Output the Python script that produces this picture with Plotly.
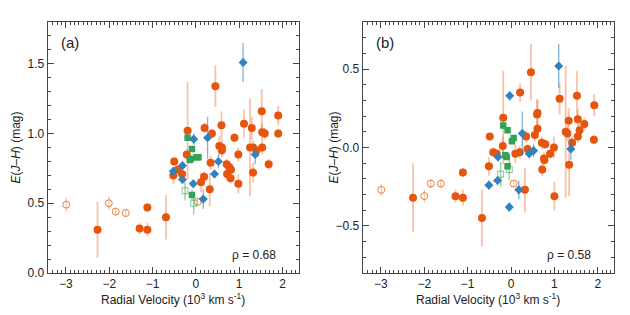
import plotly.graph_objects as go

# ---------------- Panel (a) data ----------------
a_org_x = [-2.27, -1.30, -1.12, -1.12, -0.69, -0.52, -0.50, -0.42, -0.32, -0.19, -0.21, 0.12, 0.19, 0.20,
           0.32, 0.34, 0.37, 0.45, 0.54, 0.59, 0.60, 0.60, 0.71, 0.72, 0.77, 0.80, 0.81, 0.89, 0.98, 0.98,
           1.11, 1.25, 1.29, 1.32, 1.32, 1.40, 1.52, 1.53, 1.53, 1.59, 1.68, 1.90, 1.90]
a_org_y = [0.31, 0.32, 0.31, 0.47, 0.40, 0.70, 0.80, 0.74, 0.71, 1.02, 0.85, 0.65, 0.69, 1.04,
           0.60, 0.79, 1.00, 1.34, 0.91, 1.06, 0.90, 0.88, 0.78, 0.71, 0.76, 0.68, 0.74, 0.97, 0.64, 0.85,
           1.07, 0.90, 1.04, 0.72, 0.90, 0.88, 1.16, 1.01, 0.90, 1.00, 0.78, 1.13, 1.00]
a_org_e = [0.20, 0.04, 0.05, 0.03, 0.16, 0.06, 0.03, 0.02, 0.03, 0.35, 0.04, 0.07, 0.04, 0.04,
           0.12, 0.05, 0.03, 0.15, 0.07, 0.10, 0.06, 0.05, 0.04, 0.04, 0.03, 0.04, 0.03, 0.03, 0.07, 0.05,
           0.10, 0.35, 0.08, 0.07, 0.05, 0.03, 0.16, 0.06, 0.05, 0.04, 0.04, 0.07, 0.03]
a_open_x = [-2.99, -2.01, -1.85, -1.62, 0.04]
a_open_y = [0.49, 0.50, 0.44, 0.43, 0.51]
a_open_e = [0.05, 0.05, 0.03, 0.03, 0.03]
a_blue_x = [-0.52, -0.31, -0.31, -0.05, -0.06, 0.17, 0.27, 0.43, 0.52, 1.09, 1.37]
a_blue_y = [0.73, 0.77, 0.67, 0.96, 0.64, 0.53, 0.97, 0.71, 0.80, 1.51, 0.85]
a_blue_e = [0.03, 0.03, 0.03, 0.04, 0.03, 0.07, 0.15, 0.03, 0.05, 0.14, 0.07]
a_grn_x = [-0.19, -0.14, -0.11, -0.09, 0.02, 0.06, -0.09]
a_grn_y = [0.97, 0.81, 0.82, 0.89, 0.83, 0.83, 0.56]
a_grn_e = [0.02, 0.02, 0.02, 0.02, 0.02, 0.02, 0.04]
a_gopen_x = [-0.25, -0.05]
a_gopen_y = [0.59, 0.50]
a_gopen_e = [0.07, 0.08]

# ---------------- Panel (b) data ----------------
b_org_x = [-2.26, -1.28, -1.11, -1.11, -0.67, -0.51, -0.49, -0.41, -0.33, -0.18, -0.19, 0.10, 0.20, 0.21,
           0.35, 0.32, 0.38, 0.46, 0.55, 0.60, 0.61, 0.61, 0.71, 0.72, 0.76, 0.77, 0.79, 0.90, 0.99, 1.00,
           1.12, 1.26, 1.30, 1.33, 1.34, 1.41, 1.52, 1.54, 1.54, 1.58, 1.69, 1.92, 1.91]
b_org_y = [-0.32, -0.31, -0.32, -0.16, -0.45, -0.12, 0.07, -0.03, -0.04, 0.19, 0.01, -0.04, -0.03, 0.35,
           0.07, -0.27, -0.01, 0.48, 0.08, 0.21, 0.22, 0.12, 0.03, -0.14, -0.07, -0.08, 0.02, -0.04, 0.00, -0.31,
           0.31, 0.10, 0.09, 0.17, -0.11, 0.03, 0.33, 0.18, 0.07, 0.11, 0.15, 0.27, 0.05]
b_org_e = [0.22, 0.04, 0.05, 0.03, 0.18, 0.06, 0.02, 0.03, 0.03, 0.30, 0.06, 0.06, 0.04, 0.06,
           0.04, 0.14, 0.03, 0.18, 0.04, 0.10, 0.08, 0.05, 0.04, 0.04, 0.04, 0.03, 0.03, 0.03, 0.07, 0.09,
           0.10, 0.42, 0.05, 0.08, 0.20, 0.04, 0.16, 0.06, 0.04, 0.05, 0.04, 0.07, 0.03]
b_open_x = [-2.99, -2.00, -1.85, -1.62, 0.06]
b_open_y = [-0.27, -0.31, -0.23, -0.23, -0.23]
b_open_e = [0.04, 0.04, 0.03, 0.03, 0.02]
b_blue_x = [-0.51, -0.31, -0.30, -0.03, -0.04, 0.18, 0.26, 0.42, 0.52, 1.10, 1.38]
b_blue_y = [-0.24, -0.21, -0.06, 0.33, -0.38, -0.27, 0.09, -0.04, -0.02, 0.52, -0.01]
b_blue_e = [0.03, 0.03, 0.03, 0.03, 0.03, 0.06, 0.14, 0.03, 0.04, 0.14, 0.07]
b_grn_x = [-0.18, -0.08, -0.13, -0.10, -0.08, 0.02, 0.06]
b_grn_y = [0.14, 0.11, -0.05, -0.06, -0.12, 0.04, 0.06]
b_grn_e = [0.02, 0.02, 0.02, 0.02, 0.02, 0.02, 0.02]
b_gopen_x = [-0.24, -0.04]
b_gopen_y = [-0.17, -0.14]
b_gopen_e = [0.08, 0.07]

x_ticks = [-3, -2, -1, 0, 1, 2]
a_y_ticks = [0.0, 0.5, 1.0, 1.5]
b_y_ticks = [-0.5, 0.0, 0.5]

ORG = "#E6550D"
ORG_E = "rgba(240,120,60,0.45)"
BLUE = "#3182BD"
BLUE_E = "rgba(49,130,189,0.6)"
GRN = "#31A354"
GRN_E = "rgba(49,163,84,0.45)"

fig = go.Figure()


def add_panel(xa, ya, org, opn, blu, grn, gop):
    def ey(e, c, w=1.6):
        return dict(type="data", array=e, color=c, thickness=w, width=0)
    fig.add_trace(go.Scatter(x=opn[0], y=opn[1], mode="markers", xaxis=xa, yaxis=ya,
                             error_y=ey(opn[2], ORG_E, 1.2),
                             marker=dict(symbol="circle-open", size=7, color=ORG, opacity=0.75,
                                         line=dict(width=1))))
    fig.add_trace(go.Scatter(x=gop[0], y=gop[1], mode="markers", xaxis=xa, yaxis=ya,
                             error_y=ey(gop[2], GRN_E, 1.6),
                             marker=dict(symbol="square-open", size=6, color=GRN, opacity=0.6,
                                         line=dict(width=1))))
    fig.add_trace(go.Scatter(x=org[0], y=org[1], mode="markers", xaxis=xa, yaxis=ya,
                             error_y=ey(org[2], ORG_E, 1.8),
                             marker=dict(symbol="circle", size=8, color=ORG, line=dict(width=0))))
    fig.add_trace(go.Scatter(x=grn[0], y=grn[1], mode="markers", xaxis=xa, yaxis=ya,
                             error_y=ey(grn[2], GRN_E, 1.4),
                             marker=dict(symbol="square", size=6.5, color=GRN, line=dict(width=0))))
    fig.add_trace(go.Scatter(x=blu[0], y=blu[1], mode="markers", xaxis=xa, yaxis=ya,
                             error_y=ey(blu[2], BLUE_E, 1.3),
                             error_x=dict(type="constant", value=0.06, color=BLUE, thickness=1.3, width=0),
                             marker=dict(symbol="diamond", size=7, color=BLUE, line=dict(width=0))))


add_panel("x", "y", (a_org_x, a_org_y, a_org_e), (a_open_x, a_open_y, a_open_e),
          (a_blue_x, a_blue_y, a_blue_e), (a_grn_x, a_grn_y, a_grn_e), (a_gopen_x, a_gopen_y, a_gopen_e))
add_panel("x2", "y2", (b_org_x, b_org_y, b_org_e), (b_open_x, b_open_y, b_open_e),
          (b_blue_x, b_blue_y, b_blue_e), (b_grn_x, b_grn_y, b_grn_e), (b_gopen_x, b_gopen_y, b_gopen_e))

FONT = "Liberation Sans, Arial, sans-serif"
AX = "#444444"
TXT = "#222222"

common_x = dict(range=[-3.42, 2.38], tickvals=x_ticks, ticks="inside", ticklen=6, tickcolor=AX,
                showline=True, linecolor=AX, linewidth=1, mirror="allticks", showgrid=False,
                zeroline=False, tickfont=dict(size=12, color=TXT), automargin=False,
                minor=dict(dtick=0.1, tick0=0, ticks="inside", ticklen=3, tickcolor=AX, showgrid=False))
common_y = dict(ticks="inside", ticklen=6, tickcolor=AX, showline=True, linecolor=AX, linewidth=1,
                mirror="allticks", showgrid=False, zeroline=False, tickfont=dict(size=12, color=TXT),
                tickformat=".1f", automargin=False,
                minor=dict(dtick=0.1, tick0=0, ticks="inside", ticklen=3, tickcolor=AX, showgrid=False))

fig.update_layout(
    width=630, height=315,
    margin=dict(l=0, r=0, t=22, b=42, autoexpand=False),
    paper_bgcolor="white", plot_bgcolor="white",
    showlegend=False,
    font=dict(family=FONT, color=TXT),
    xaxis=dict(domain=[0.0757, 0.4746], anchor="y", **common_x),
    xaxis2=dict(domain=[0.5757, 0.975], anchor="y2", **common_x),
    yaxis=dict(domain=[0, 1], anchor="x", range=[0, 1.8], tickvals=a_y_ticks, **common_y),
    yaxis2=dict(domain=[0, 1], anchor="x2", range=[-0.8, 0.8], tickvals=b_y_ticks, **common_y),
)

ytitle = "<i>E</i>(<i>J</i>–<i>H</i>) (mag)"
xtitle = "Radial Velocity (10<sup>3</sup> km s<sup>-1</sup>)"
for xc in (15, 333):
    fig.add_annotation(text=ytitle, xref="paper", yref="paper", x=xc / 630, y=0.5, textangle=-90,
                       xanchor="center", yanchor="middle",
                       showarrow=False, font=dict(size=12, family=FONT, color=TXT))
for xc in (173, 488):
    fig.add_annotation(text=xtitle, xref="paper", yref="paper", x=xc / 630, y=-(299 - 273) / 251,
                       xanchor="center", yanchor="middle", showarrow=False,
                       font=dict(size=12, family=FONT, color=TXT))
fig.add_annotation(text="(a)", xref="x domain", yref="y domain", x=0.09, y=0.92, showarrow=False,
                   xanchor="center", yanchor="middle", font=dict(size=15, family=FONT, color=TXT))
fig.add_annotation(text="(b)", xref="x2 domain", yref="y2 domain", x=0.09, y=0.92, showarrow=False,
                   xanchor="center", yanchor="middle", font=dict(size=15, family=FONT, color=TXT))
fig.add_annotation(text="ρ = 0.68", xref="x domain", yref="y domain", x=0.915, y=0.072, xanchor="right",
                   yanchor="middle", showarrow=False, font=dict(size=12, family=FONT, color=TXT))
fig.add_annotation(text="ρ = 0.58", xref="x2 domain", yref="y2 domain", x=0.915, y=0.072, xanchor="right",
                   yanchor="middle", showarrow=False, font=dict(size=12, family=FONT, color=TXT))

fig.write_html("out.html", post_script="document.body.style.margin='0px';",
               config={"displayModeBar": False})
